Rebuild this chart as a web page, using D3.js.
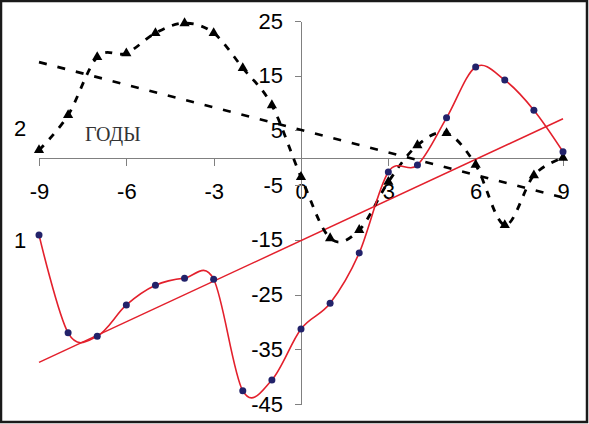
<!DOCTYPE html>
<meta charset="utf-8">
<style>
    body {
        margin: 0;
        background: white;
    }

    svg {
        font-family: "Liberation Sans", Arial, sans-serif;
    }

    .axis path,
    .axis line {
        fill: none;
        stroke: #808080;
        stroke-width: 1;
        shape-rendering: crispEdges;
    }

    .axis text {
        font-size: 22px;
        fill: black;
    }
</style>
<body>
<script src="https://cdn.jsdelivr.net/npm/d3@7"></script>
<script>
    const width = 589;
    const height = 424;

    // years on the horizontal axis
    const years = [-9, -8, -7, -6, -5, -4, -3, -2, -1, 0, 1, 2, 3, 4, 5, 6, 7, 8, 9];

    // series 1 (red, dots)
    const series1 = [-14.1, -32, -32.6, -26.9, -23.3, -22, -22.2, -42.6, -40.6, -31.3,
                     -26.6, -17.4, -2.6, -1.3, 7.3, 16.6, 14.2, 8.7, 1.1];

    // series 2 (black dashed, triangles)
    const series2 = [1.4, 7.8, 18.4, 19.1, 22.8, 24.6, 22.8, 16.4, 9.6, -3.5,
                     -14.7, -13.2, -4.4, 2.3, 4.5, -1.3, -12.3, -3.2, 0];

    const xTicks = [-9, -6, -3, 0, 3, 6, 9];
    const yTicks = [25, 15, 5, -5, -15, -25, -35, -45];

    const svg = d3.select('body')
        .append('svg')
        .attr('width', width)
        .attr('height', height);

    svg.append('rect')
        .attr('x', 1)
        .attr('y', 1)
        .attr('width', width - 3)
        .attr('height', height - 3)
        .attr('fill', 'white')
        .attr('stroke', '#1a1a1a')
        .attr('stroke-width', 2.5);

    const xScale = d3.scaleLinear().domain([-9, 9]).range([39, 563]);
    const yScale = d3.scaleLinear().domain([-45, 25]).range([404, 21]);

    const xAxis = d3.axisBottom(xScale)
        .tickValues(xTicks)
        .tickSize(8)
        .tickSizeOuter(0)
        .tickPadding(18)
        .tickFormat(d => String(d));

    const yAxis = d3.axisLeft(yScale)
        .tickValues(yTicks)
        .tickSize(6)
        .tickSizeOuter(0)
        .tickPadding(12)
        .tickFormat(d => String(d));

    svg.append('g')
        .attr('class', 'x axis')
        .attr('transform', 'translate(0,' + yScale(0) + ')')
        .call(xAxis);

    svg.append('g')
        .attr('class', 'y axis')
        .attr('transform', 'translate(' + xScale(0) + ',0)')
        .call(yAxis);

    // least squares line for a series
    function trend(values) {
        const mx = d3.mean(years);
        const my = d3.mean(values);
        let sxy = 0, sxx = 0;
        years.forEach((x, i) => {
            sxy += (x - mx) * (values[i] - my);
            sxx += (x - mx) * (x - mx);
        });
        const b = sxy / sxx;
        const a = my - b * mx;
        const ends = d3.extent(years);
        return ends.map(x => [x, a + b * x]);
    }

    const straight = d3.line()
        .x(d => xScale(d[0]))
        .y(d => yScale(d[1]));

    const smooth = d3.line()
        .x(d => xScale(d[0]))
        .y(d => yScale(d[1]))
        .curve(d3.curveCardinal.tension(0));

    const pts1 = years.map((x, i) => [x, series1[i]]);
    const pts2 = years.map((x, i) => [x, series2[i]]);

    // trend lines
    svg.append('path')
        .datum(trend(series2))
        .attr('d', straight)
        .attr('fill', 'none')
        .attr('stroke', 'black')
        .attr('stroke-width', 2.6)
        .attr('stroke-dasharray', '8,11');

    svg.append('path')
        .datum(trend(series1))
        .attr('d', straight)
        .attr('fill', 'none')
        .attr('stroke', '#e3202c')
        .attr('stroke-width', 1.5);

    // series 2
    svg.append('path')
        .datum(pts2)
        .attr('d', smooth)
        .attr('fill', 'none')
        .attr('stroke', 'black')
        .attr('stroke-width', 2.8)
        .attr('stroke-dasharray', '7,8');

    svg.selectAll('.tri')
        .data(pts2)
        .enter().append('path')
        .attr('class', 'tri')
        .attr('d', d3.symbol().type(d3.symbolTriangle).size(45))
        .attr('transform', d => 'translate(' + xScale(d[0]) + ',' + yScale(d[1]) + ')')
        .attr('fill', 'black');

    // series 1
    svg.append('path')
        .datum(pts1)
        .attr('d', smooth)
        .attr('fill', 'none')
        .attr('stroke', '#e3202c')
        .attr('stroke-width', 1.6);

    svg.selectAll('.dot')
        .data(pts1)
        .enter().append('circle')
        .attr('class', 'dot')
        .attr('cx', d => xScale(d[0]))
        .attr('cy', d => yScale(d[1]))
        .attr('r', 3.5)
        .attr('fill', '#22226a');

    // labels
    svg.append('text')
        .attr('x', 20)
        .attr('y', 240)
        .attr('dy', '0.35em')
        .attr('text-anchor', 'middle')
        .style('font-size', '22px')
        .text('1');

    svg.append('text')
        .attr('x', 20)
        .attr('y', 128)
        .attr('dy', '0.35em')
        .attr('text-anchor', 'middle')
        .style('font-size', '22px')
        .text('2');

    svg.append('text')
        .attr('x', 85)
        .attr('y', 141)
        .style('font-family', '"Liberation Serif", "Times New Roman", serif')
        .style('font-size', '20px')
        .attr('fill', '#333')
        .text('ГОДЫ');
</script>
</body>
</html>
